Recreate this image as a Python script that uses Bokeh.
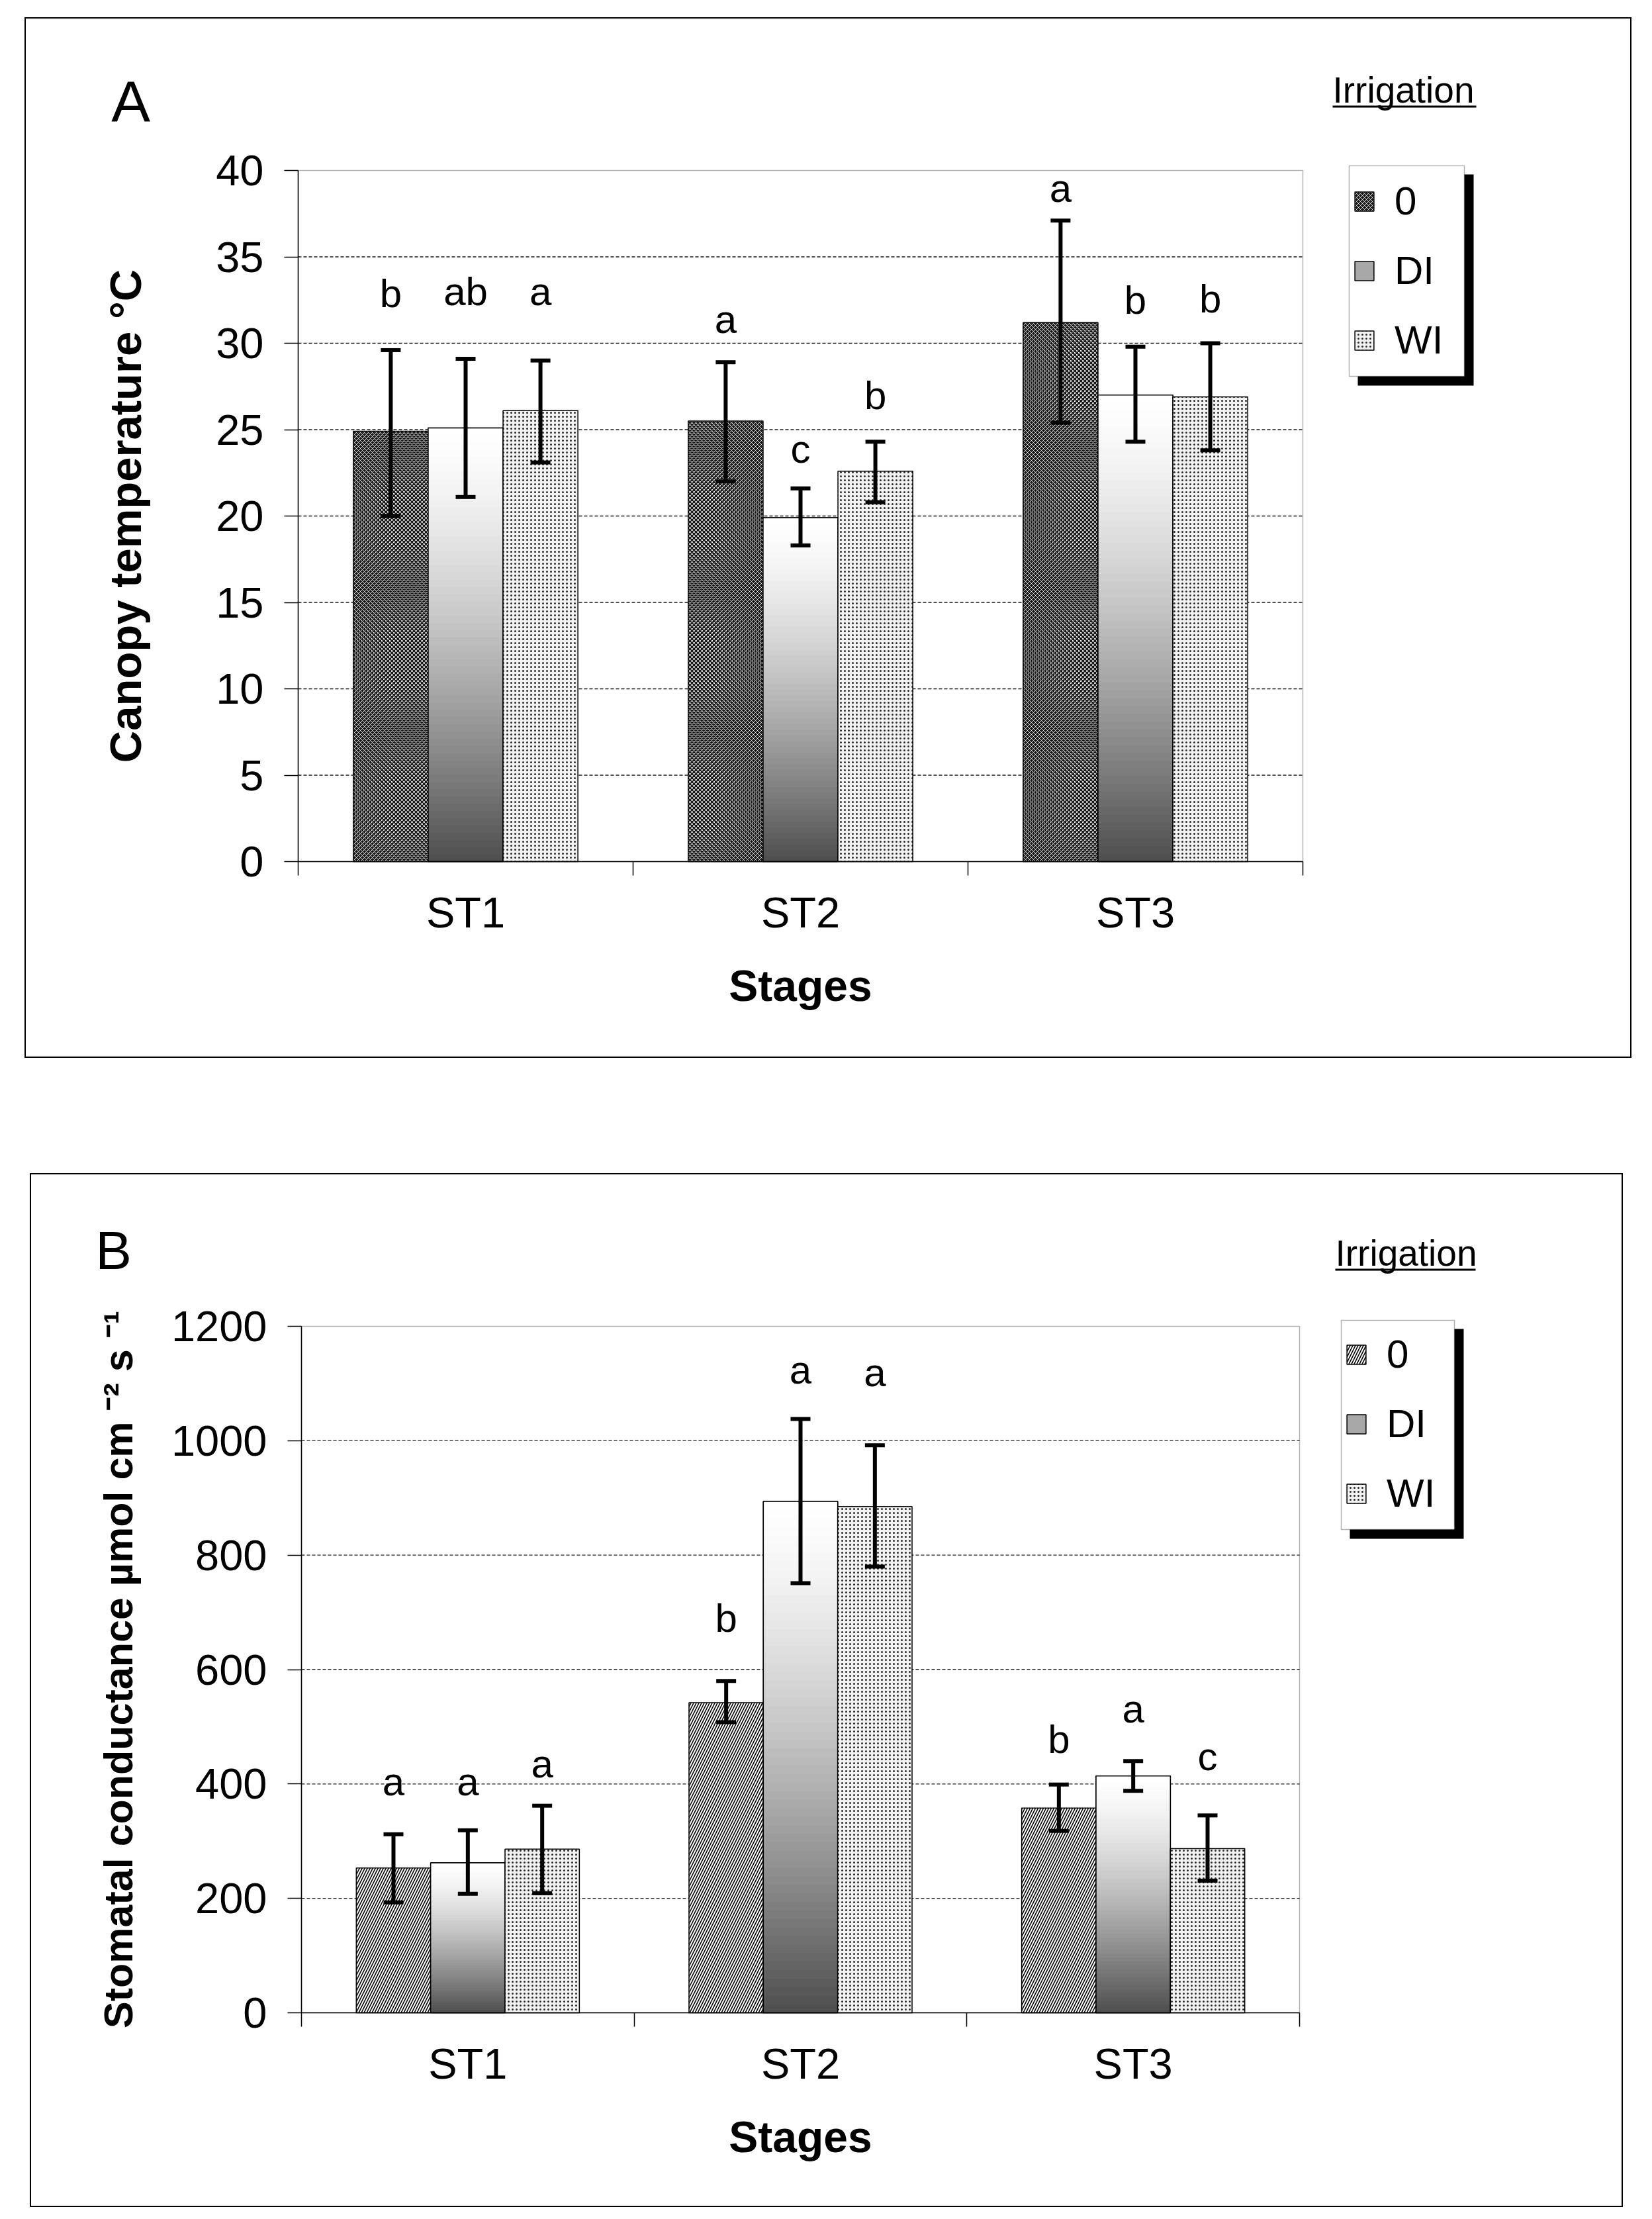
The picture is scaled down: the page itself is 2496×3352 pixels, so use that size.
import numpy as np
from bokeh.plotting import figure
from bokeh.models import (ColumnDataSource, Whisker, TeeHead, Label, Legend, LegendItem,
                          FixedTicker, BoxAnnotation, Range1d, Spacer)
from bokeh.layouts import column, row
from bokeh.embed import file_html
from bokeh.resources import INLINE
from bokeh.core.properties import value

FONT = "Liberation Sans"

stages = ["ST1", "ST2", "ST3"]
treatments = ["0", "DI", "WI"]

# ---------------- Panel A : canopy temperature ----------------
a_mean_0 = [24.9, 25.5, 31.2]
a_mean_di = [25.1, 19.9, 27.0]
a_mean_wi = [26.1, 22.6, 26.9]
a_hi_0 = [29.6, 28.9, 37.1]
a_lo_0 = [20.0, 22.0, 25.4]
a_hi_di = [29.1, 21.6, 29.8]
a_lo_di = [21.1, 18.3, 24.3]
a_hi_wi = [29.0, 24.3, 30.0]
a_lo_wi = [23.1, 20.8, 23.8]
a_let_0 = ["b", "a", "a"]
a_let_di = ["ab", "c", "b"]
a_let_wi = ["a", "b", "b"]
a_lety_0 = [32.1, 30.6, 38.2]
a_lety_di = [32.2, 23.1, 31.7]
a_lety_wi = [32.2, 26.2, 31.8]
a_yticks = [0, 5, 10, 15, 20, 25, 30, 35, 40]
a_ymax = 40
a_ylabel = "Canopy temperature °C"

# ---------------- Panel B : stomatal conductance ----------------
b_mean_0 = [253, 542, 358]
b_mean_di = [262, 894, 414]
b_mean_wi = [286, 885, 287]
b_hi_0 = [312, 580, 399]
b_lo_0 = [193, 508, 318]
b_hi_di = [319, 1038, 440]
b_lo_di = [208, 751, 388]
b_hi_wi = [362, 992, 345]
b_lo_wi = [209, 780, 231]
b_let_0 = ["a", "b", "b"]
b_let_di = ["a", "a", "a"]
b_let_wi = ["a", "a", "c"]
b_lety_0 = [380, 666, 454]
b_lety_di = [380, 1100, 508]
b_lety_wi = [412, 1095, 424]
b_yticks = [0, 200, 400, 600, 800, 1000, 1200]
b_ymax = 1200
b_ylabel = "Stomatal conductance µmol cm ⁻² s ⁻¹"

x_label = "Stages"
legend_title = "Irrigation"

BAR_W = 0.2235
NCAT = len(stages)
LETTER_PX = 60
BASE_SHIFT = 0.34      # renderer places alphabetic baseline this fraction of font size low


def gradient_source(xs, tops, n=60, bottom_gray=78, power=1.4):
    x, b, t, c = [], [], [], []
    for xi, v in zip(xs, tops):
        for k in range(n):
            lo = v * k / n
            hi = v * (k + 1) / n + (v * 0.006 if k < n - 1 else 0)
            tt = 1 - (k + 0.5) / n
            g = int(round(255 - (255 - bottom_gray) * tt ** power))
            x.append(xi); b.append(lo); t.append(hi)
            c.append("#%02x%02x%02x" % (g, g, g))
    return ColumnDataSource(dict(x=x, bottom=b, top=t, color=c))


def make_panel(cfg):
    W, H = cfg["W"], cfg["H"]
    L, R, T, B = cfg["plot_box"]          # plot area inside the panel, canvas pixels
    ymax = cfg["ymax"]
    kx = (R - L) / NCAT
    ky = (B - T) / ymax
    x_start, x_end = -L / kx, NCAT + (W - R) / kx
    y_start, y_end = -(H - B) / ky, ymax + T / ky

    def dx(px):
        return x_start + px / kx

    def dy(py):
        return y_end - py / ky

    p = figure(width=W, height=H, x_range=Range1d(x_start, x_end),
               y_range=Range1d(y_start, y_end), output_backend="svg",
               toolbar_location=None, title_location=None,
               min_border=0, min_border_left=0, min_border_right=0,
               min_border_top=0, min_border_bottom=0)
    p.background_fill_color = "white"
    p.border_fill_color = "white"
    p.outline_line_color = "black"
    p.outline_line_width = 3
    p.xgrid.visible = False
    p.ygrid.visible = False

    gy = [v for v in cfg["yticks"] if 0 < v < ymax]
    p.segment(x0=[0] * len(gy), x1=[NCAT] * len(gy), y0=gy, y1=gy,
              line_color="#1a1a1a", line_width=1.3, line_dash="5 3")
    p.add_layout(BoxAnnotation(left=0, right=NCAT, bottom=0, top=ymax, fill_alpha=0.0,
                               line_color="black", line_width=1.5, level="underlay"))

    ya = p.yaxis[0]
    ya.fixed_location = 0
    ya.bounds = (0, ymax)
    ya.ticker = FixedTicker(ticks=cfg["yticks"])
    ya.major_tick_out = 21
    ya.major_tick_in = 0
    ya.minor_tick_line_color = None
    ya.major_label_standoff = 31
    ya.major_label_text_font = FONT
    ya.major_label_text_font_size = "65px"
    ya.major_label_text_color = "black"
    ya.axis_line_width = 1.5
    ya.major_tick_line_width = 1.5
    ya.axis_label = cfg["ylabel"]
    ya.axis_label_text_font = FONT
    ya.axis_label_text_font_style = "bold"
    ya.axis_label_text_font_size = cfg["ylabel_size"]
    ya.axis_label_standoff = cfg["ylabel_standoff"]
    ya.axis_label_text_color = "black"

    xa = p.xaxis[0]
    xa.fixed_location = 0
    xa.bounds = (0, NCAT)
    xa.ticker = FixedTicker(ticks=[i + 0.5 for i in range(NCAT)],
                            minor_ticks=list(range(NCAT + 1)))
    xa.major_label_overrides = {i + 0.5: s for i, s in enumerate(stages)}
    xa.major_tick_out = 0
    xa.major_tick_in = 0
    xa.major_tick_line_color = None
    xa.minor_tick_out = 21
    xa.minor_tick_in = 0
    xa.minor_tick_line_color = "black"
    xa.minor_tick_line_width = 1.5
    xa.axis_line_width = 1.5
    xa.major_label_standoff = 19
    xa.major_label_text_font = FONT
    xa.major_label_text_font_size = "65px"
    xa.major_label_text_color = "black"
    xa.axis_label = x_label
    xa.axis_label_text_font = FONT
    xa.axis_label_text_font_style = "bold"
    xa.axis_label_text_font_size = "66px"
    xa.axis_label_standoff = 34
    xa.axis_label_text_color = "black"

    centers = np.arange(NCAT) + 0.5
    xs = {"0": list(centers - BAR_W), "DI": list(centers), "WI": list(centers + BAR_W)}

    s0 = cfg["style0"]
    r0 = p.vbar(x=xs["0"], top=cfg["mean"]["0"], width=BAR_W, bottom=0,
                fill_color=s0["fill"], hatch_pattern=s0["hatch"], hatch_color=s0["hatch_color"],
                hatch_scale=s0["scale"], hatch_weight=s0["weight"],
                line_color="black", line_width=1.5)
    rdi = p.vbar(x=xs["DI"], top=cfg["mean"]["DI"], width=BAR_W, bottom=0,
                 fill_color="#a8a8a8", line_color="black", line_width=1.5)
    gsrc = gradient_source(xs["DI"], cfg["mean"]["DI"])
    p.vbar(x="x", top="top", bottom="bottom", width=BAR_W, fill_color="color",
           line_color=None, source=gsrc)
    p.vbar(x=xs["DI"], top=cfg["mean"]["DI"], width=BAR_W, bottom=0,
           fill_color=None, line_color="black", line_width=1.5)
    rwi = p.vbar(x=xs["WI"], top=cfg["mean"]["WI"], width=BAR_W, bottom=0,
                 fill_color="#f3f3f3", hatch_pattern="dot", hatch_color="#2a2a2a",
                 hatch_scale=6, hatch_weight=1.4, line_color="black", line_width=1.5)

    lshift = BASE_SHIFT * LETTER_PX / ky
    for tr in treatments:
        src = ColumnDataSource(dict(x=xs[tr], hi=cfg["hi"][tr], lo=cfg["lo"][tr],
                                    ly=[v + lshift for v in cfg["lety"][tr]],
                                    let=cfg["let"][tr]))
        wk = Whisker(source=src, base="x", upper="hi", lower="lo", dimension="height",
                     line_color="black", line_width=6, level="annotation",
                     upper_head=TeeHead(size=30, line_width=6, line_color="black"),
                     lower_head=TeeHead(size=30, line_width=6, line_color="black"))
        p.add_layout(wk)
        p.text(x="x", y="ly", text="let", source=src, text_align="center",
               text_baseline="alphabetic", text_font=value(FONT),
               text_font_size="%dpx" % LETTER_PX, text_color="black")

    # legend frame with drop shadow
    bl, br, bt, bb = cfg["legend_box"]
    p.add_layout(BoxAnnotation(left=dx(bl + 13), right=dx(br + 14), top=dy(bt + 13),
                               bottom=dy(bb + 14), fill_color="black", fill_alpha=1.0,
                               line_color=None))
    p.add_layout(BoxAnnotation(left=dx(bl), right=dx(br), top=dy(bt), bottom=dy(bb),
                               fill_color="white", fill_alpha=1.0,
                               line_color="black", line_width=1.5))
    items = [LegendItem(label=value(tr), renderers=[r]) for tr, r in
             zip(treatments, [r0, rdi, rwi])]
    lg = Legend(items=items, location=(bl + 5, H - bb + 20),
                orientation="vertical", margin=0, padding=24, spacing=36,
                glyph_width=36, glyph_height=36, label_standoff=28, label_width=75,
                label_text_font=FONT, label_text_font_size="60px",
                label_text_color="black", border_line_color=None,
                background_fill_alpha=0.0)
    p.add_layout(lg)

    tx, ty = cfg["irr_pos"]
    p.add_layout(Label(x=dx(tx), y=dy(ty - BASE_SHIFT * 55), text=legend_title,
                       text_font=FONT, text_font_size="55px", text_align="left",
                       text_baseline="alphabetic", text_color="black"))
    ux0, ux1, uy0, uy1 = cfg["underline"]
    p.add_layout(BoxAnnotation(left=dx(ux0), right=dx(ux1), top=dy(uy0), bottom=dy(uy1),
                               fill_color="black", fill_alpha=1.0, line_color=None))
    px_, py_ = cfg["panel_pos"]
    fs = cfg["panel_size"]
    p.add_layout(Label(x=dx(px_), y=dy(py_ - BASE_SHIFT * fs), text=cfg["panel"],
                       text_font=FONT, text_font_size="%dpx" % fs, text_align="center",
                       text_baseline="alphabetic", text_color="black"))
    return p


cfgA = dict(W=2428, H=1572, plot_box=(413, 1931, 231, 1275), ymax=a_ymax, yticks=a_yticks,
            ylabel=a_ylabel, ylabel_size="67px", ylabel_standoff=96,
            mean={"0": a_mean_0, "DI": a_mean_di, "WI": a_mean_wi},
            hi={"0": a_hi_0, "DI": a_hi_di, "WI": a_hi_wi},
            lo={"0": a_lo_0, "DI": a_lo_di, "WI": a_lo_wi},
            let={"0": a_let_0, "DI": a_let_di, "WI": a_let_wi},
            lety={"0": a_lety_0, "DI": a_lety_di, "WI": a_lety_wi},
            style0=dict(fill="#1a1a1a", hatch="diagonal_cross", hatch_color="white",
                        scale=6, weight=1.0),
            legend_box=(2001, 2175, 224, 542),
            irr_pos=(1976, 128), underline=(1976, 2193, 133, 136),
            panel="A", panel_pos=(160, 157), panel_size=88)

cfgB = dict(W=2407, H=1562, plot_box=(410, 1918, 231, 1268), ymax=b_ymax, yticks=b_yticks,
            ylabel=b_ylabel, ylabel_size="61px", ylabel_standoff=43,
            mean={"0": b_mean_0, "DI": b_mean_di, "WI": b_mean_wi},
            hi={"0": b_hi_0, "DI": b_hi_di, "WI": b_hi_wi},
            lo={"0": b_lo_0, "DI": b_lo_di, "WI": b_lo_wi},
            let={"0": b_let_0, "DI": b_let_di, "WI": b_let_wi},
            lety={"0": b_lety_0, "DI": b_lety_di, "WI": b_lety_wi},
            style0=dict(fill="white", hatch="right_diagonal_line", hatch_color="black",
                        scale=8, weight=1.6),
            legend_box=(1981, 2152, 222, 538),
            irr_pos=(1972, 139), underline=(1972, 2184, 144, 147),
            panel="B", panel_pos=(126, 144), panel_size=82)

pA = make_panel(cfgA)
pB = make_panel(cfgB)

layout = column(Spacer(height=26),
                row(Spacer(width=37), pA),
                Spacer(height=174),
                row(Spacer(width=45), pB))

open("out.html", "w").write(file_html(layout, INLINE))
